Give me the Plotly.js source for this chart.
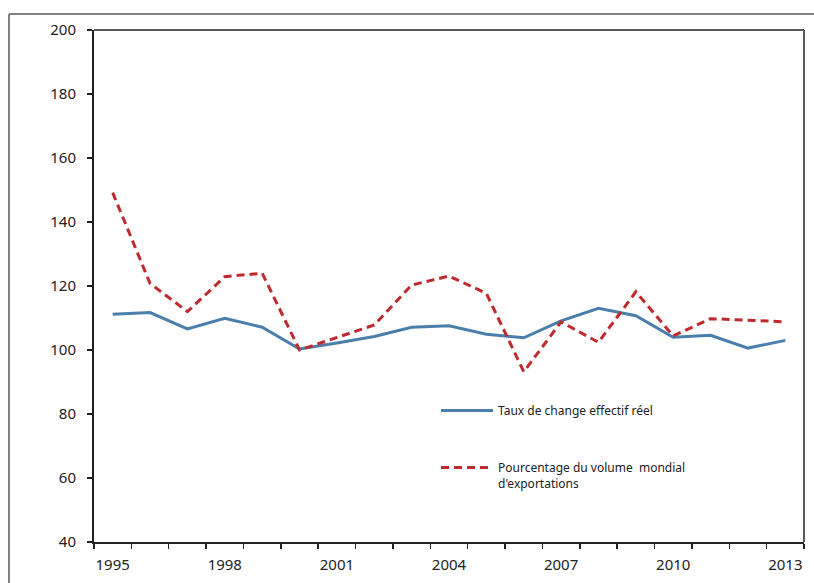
<!DOCTYPE html>
<html>
<head>
<meta charset="utf-8">
<script src="https://cdn.plot.ly/plotly-3.0.1.min.js"></script>
<style>html,body{margin:0;padding:0;background:#fff;}#chart{width:814px;height:583px;}</style>
</head>
<body>
<div id="chart"></div>
<script>
const years = [1995,1996,1997,1998,1999,2000,2001,2002,2003,2004,2005,2006,2007,2008,2009,2010,2011,2012,2013];
const tauxChange = [111.2,111.7,106.6,109.9,107.1,100.3,102.2,104.2,107.1,107.6,104.9,103.8,109.1,113.0,110.7,104.0,104.6,100.6,103.0];
const partExport = [149.2,120.8,112.0,122.9,124.0,100.0,103.9,107.8,120.3,123.1,117.7,93.2,108.8,102.4,118.2,104.4,109.8,109.4,108.8];
const labelYears = [1995,1998,2001,2004,2007,2010,2013];
const seriesNames = ["Taux de change effectif réel", "Pourcentage du volume  mondial<br>d'exportations"];

const boundaries = years.map(y => y - 0.5).concat([years[years.length-1] + 0.5]);

const traces = [
  {x: years, y: tauxChange, type: 'scatter', mode: 'lines', name: seriesNames[0],
   legendgroup: 'a', line: {color: '#4A7EAB', width: 3}},
  {x: years, y: partExport, type: 'scatter', mode: 'lines', name: seriesNames[1],
   legendgroup: 'b', line: {color: '#BE2A2E', width: 3, dash: '8px,5px'}}
];

const frameCol = '#595959';
const layout = {
  width: 814, height: 583,
  margin: {l: 94, r: 10, t: 30, b: 41},
  paper_bgcolor: '#fff', plot_bgcolor: '#fff',
  font: {family: 'Noto Sans, Open Sans, sans-serif', color: '#222', size: 15},
  xaxis: {
    range: [years[0] - 0.5, years[years.length-1] + 0.5],
    tickmode: 'array', tickvals: labelYears, ticktext: labelYears.map(String),
    ticks: '', showgrid: false, zeroline: false,
    showline: true, linecolor: '#222', linewidth: 2,
    ticklabelstandoff: 8,
    minor: {tickmode: 'array', tickvals: boundaries, ticks: 'outside', ticklen: 5, tickwidth: 1.5, tickcolor: '#222', showgrid: false},
    tickfont: {size: 15}
  },
  yaxis: {
    range: [40, 200], dtick: 20, tick0: 40,
    ticks: 'outside', ticklen: 5, tickwidth: 1.5, tickcolor: '#222',
    showgrid: false, zeroline: false,
    showline: true, linecolor: '#222', linewidth: 2,
    ticklabelstandoff: 8,
    tickfont: {size: 15}
  },
  showlegend: true,
  legend: {
    x: 0.4817, xanchor: 'left', y: 0.285, yanchor: 'top',
    bgcolor: 'rgba(0,0,0,0)', borderwidth: 0,
    font: {size: 12, color: '#222'},
    tracegroupgap: 38, itemwidth: 52, valign: 'top'
  },
  shapes: [
    {type: 'line', xref: 'paper', yref: 'paper', x0: 0, x1: 1, y0: 1, y1: 1, line: {color: frameCol, width: 2}},
    {type: 'line', xref: 'paper', yref: 'paper', x0: 1, x1: 1, y0: 0, y1: 1, line: {color: frameCol, width: 2}},
    {type: 'line', xref: 'paper', yref: 'paper', x0: -0.1197, x1: 1.03, y0: 1.0313, y1: 1.0313, line: {color: frameCol, width: 1.5}},
    {type: 'line', xref: 'paper', yref: 'paper', x0: -0.1197, x1: -0.1197, y0: -0.1, y1: 1.0313, line: {color: frameCol, width: 1.5}}
  ]
};

Plotly.newPlot('chart', traces, layout, {displayModeBar: false, staticPlot: true});
</script>
</body>
</html>
